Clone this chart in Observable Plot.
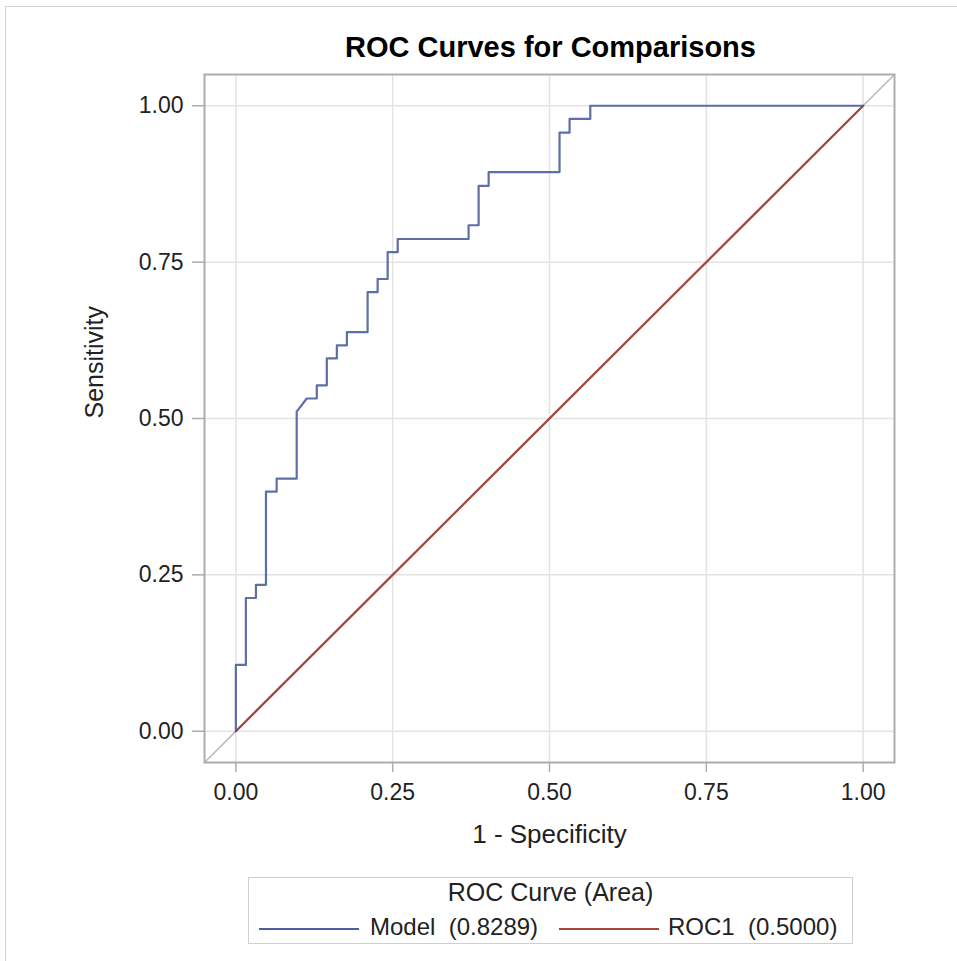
<!DOCTYPE html>
<html>
<head>
<meta charset="utf-8">
<script src="https://cdn.jsdelivr.net/npm/d3@7"></script>
<script src="https://cdn.jsdelivr.net/npm/@observablehq/plot@0.6"></script>
<style>
  html, body { margin: 0; padding: 0; background: #fff; }
  body { font-family: "Liberation Sans", Arial, sans-serif; }
  #wrap { position: relative; width: 957px; height: 961px; overflow: hidden; }
  #border { position: absolute; left: 5px; top: 6px; width: 1000px; height: 1000px; border-top: 1px solid #d3d3d3; border-left: 1px solid #d3d3d3; }
  #chart { position: absolute; left: 0; top: 0; }
  #legend { position: absolute; left: 248px; top: 877px; width: 603px; height: 65px; border: 1px solid #cfcfcf; background: #fff; color: #222; }
  #legend .ttl { position: absolute; left: 0; width: 100%; top: 1px; text-align: center; font-size: 25px; line-height: 26px; }
  #legend .sw { position: absolute; height: 2px; top: 50px; }
  #legend .lb { position: absolute; top: 36px; font-size: 24px; line-height: 26px; white-space: pre; }
</style>
</head>
<body>
<div id="wrap">
  <div id="border"></div>
  <div id="chart"></div>
  <div id="legend"></div>
</div>
<script>
// ---- data ----
const modelFpr = [0, 0, 0.016, 0.016, 0.032, 0.032, 0.048, 0.048, 0.065, 0.065, 0.097, 0.097, 0.113, 0.129, 0.129, 0.145, 0.145, 0.161, 0.161, 0.177, 0.177, 0.210, 0.210, 0.226, 0.226, 0.242, 0.242, 0.258, 0.258, 0.371, 0.371, 0.387, 0.387, 0.403, 0.403, 0.516, 0.516, 0.532, 0.532, 0.565, 0.565, 1];
const modelTpr = [0, 0.106, 0.106, 0.213, 0.213, 0.234, 0.234, 0.383, 0.383, 0.404, 0.404, 0.511, 0.532, 0.532, 0.553, 0.553, 0.596, 0.596, 0.617, 0.617, 0.638, 0.638, 0.702, 0.702, 0.723, 0.723, 0.766, 0.766, 0.787, 0.787, 0.809, 0.809, 0.872, 0.872, 0.894, 0.894, 0.957, 0.957, 0.979, 0.979, 1, 1];
const roc1Fpr = [0, 1];
const roc1Tpr = [0, 1];
const axisDomain = [-0.05, 1.05];
const tickValues = [0, 0.25, 0.5, 0.75, 1];
const tickLabels = ["0.00", "0.25", "0.50", "0.75", "1.00"];
const seriesNames = ["Model", "ROC1"];
const seriesAreas = ["0.8289", "0.5000"];
const seriesColors = ["#4d5f9f", "#a8453a"];
const titleText = "ROC Curves for Comparisons";
const xLabel = "1 - Specificity";
const yLabel = "Sensitivity";
const legendTitle = "ROC Curve (Area)";

// ---- build tables ----
const model = modelFpr.map((x, i) => ({x, y: modelTpr[i]}));
const roc1 = roc1Fpr.map((x, i) => ({x, y: roc1Tpr[i]}));
const refLine = axisDomain.map(v => ({x: v, y: v}));
const fmt = v => tickLabels[tickValues.indexOf(v)];

const FONT = "Liberation Sans, Arial, sans-serif";
const chart = Plot.plot({
  width: 957,
  height: 961,
  marginLeft: 204,
  marginRight: 63,
  marginTop: 74,
  marginBottom: 199,
  style: {fontFamily: FONT, color: "#222", background: "transparent"},
  x: {domain: axisDomain, ticks: tickValues, tickFormat: fmt},
  y: {domain: axisDomain, ticks: tickValues, tickFormat: fmt},
  marks: [
    Plot.gridX(tickValues, {stroke: "#e3e3e3", strokeOpacity: 1, strokeWidth: 1.5}),
    Plot.gridY(tickValues, {stroke: "#e3e3e3", strokeOpacity: 1, strokeWidth: 1.5}),
    Plot.line(refLine, {x: "x", y: "y", stroke: "#b9b9b9", strokeWidth: 1.5}),
    Plot.line(roc1, {x: "x", y: "y", stroke: seriesColors[1], strokeWidth: 2.2}),
    Plot.line(model, {x: "x", y: "y", stroke: seriesColors[0], strokeWidth: 2.2, strokeOpacity: 0.9}),
    Plot.frame({stroke: "#a9adb2", strokeWidth: 2}),
    Plot.axisX(tickValues, {tickFormat: fmt, tickSize: 10, tickPadding: 11, fontSize: 23, stroke: "#a9adb2", strokeWidth: 1.5, label: null, color: "#222"}),
    Plot.axisY(tickValues, {tickFormat: fmt, tickSize: 12, tickPadding: 9, fontSize: 23, stroke: "#a9adb2", strokeWidth: 1.5, label: null, color: "#222"}),
    Plot.text([titleText], {frameAnchor: "top", dy: -38, dx: 1, fontSize: 29, fontWeight: "bold", fill: "#000"}),
    Plot.text([xLabel], {frameAnchor: "bottom", dy: 80, fontSize: 26, fill: "#222"}),
    Plot.text([yLabel], {frameAnchor: "left", dx: -110, rotate: -90, fontSize: 25, fill: "#222"})
  ]
});
document.getElementById("chart").appendChild(chart);

// ---- legend ----
const legend = document.getElementById("legend");
const ttl = document.createElement("div");
ttl.className = "ttl";
ttl.textContent = legendTitle;
legend.appendChild(ttl);
const swLeft = [10, 310];
const lbLeft = [121, 419];
seriesNames.forEach((name, i) => {
  const sw = document.createElement("div");
  sw.className = "sw";
  sw.style.left = swLeft[i] + "px";
  sw.style.width = "100px";
  sw.style.background = seriesColors[i];
  legend.appendChild(sw);
  const lb = document.createElement("div");
  lb.className = "lb";
  lb.style.left = lbLeft[i] + "px";
  lb.textContent = name + "  (" + seriesAreas[i] + ")";
  legend.appendChild(lb);
});
</script>
</body>
</html>
